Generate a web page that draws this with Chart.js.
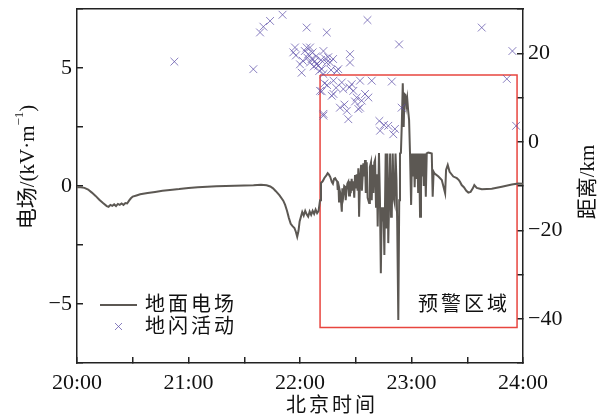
<!DOCTYPE html>
<html>
<head>
<meta charset="utf-8">
<script src="https://cdn.jsdelivr.net/npm/chart.js@4.4.1/dist/chart.umd.min.js"></script>
<style>
  html, body { margin: 0; padding: 0; background: #fff; }
  #wrap { width: 603px; height: 418px; }
</style>
</head>
<body>
<div id="wrap"><canvas id="chart" width="603" height="418"></canvas></div>
<script>
// minutes after 20:00, field in kV/m
const fieldData = [
  [0,-0.05],[2,-0.05],[4,-0.08],[6,-0.15],[8,-0.28],[10,-0.42],[12,-0.58],[14,-0.72],[16,-0.85],[17,-0.88],
  [18,-0.8],[19,-0.84],[20,-0.78],[21,-0.85],[22,-0.76],[23,-0.8],[24,-0.74],[25,-0.8],[26,-0.72],[27,-0.74],
  [28,-0.62],[29,-0.52],[30,-0.45],[32,-0.4],[34,-0.35],[38,-0.3],[42,-0.25],[46,-0.2],[50,-0.17],[55,-0.13],
  [60,-0.08],[65,-0.05],[70,-0.03],[75,-0.01],[80,0.0],[85,0.01],[90,0.02],[95,0.03],[99,0.05],[102,0.03],
  [104,-0.02],[105.5,-0.1],[107,-0.22],[109,-0.4],[111,-0.62],[112,-0.8],[113,-1.05],[114,-1.35],[115,-1.6],[116,-1.7],
  [117,-1.78],[117.8,-1.95],[118.5,-2.15],[119.2,-1.9],[119.8,-1.5],[120.5,-1.3],[121.2,-1.1],[122,-1.25],[122.8,-1.05],[123.6,-1.2],
  [124.4,-1.3],[125.2,-1.08],[126,-1.22],[126.8,-1.05],[127.6,-1.18],[128.4,-1.0],[129.2,-1.15],[130,-1.05],[130.6,-0.7],[130.8,-0.6],
  [131.3,0.13],[132.2,0.2],[133.2,0.35],[134.2,0.45],[134.9,0.54],[135.6,0.48],[136.3,0.38],[137.1,0.18],[137.7,0.1],[138.3,0.3],
  [138.9,0.33],[139.5,0.25],[140.0,0.2],[140.3,-0.17],[140.7,0.05],[141.0,-0.66],[141.4,-0.2],[141.8,-0.35],[142.5,-1.09],[142.8,-0.1],
  [143.3,-0.4],[143.8,0.0],[144.2,-0.03],[144.6,-0.6],[145.0,-0.2],[145.5,0.1],[146.0,0.18],[146.4,-0.4],[146.9,0.2],[147.3,-0.3],
  [147.8,0.3],[148.3,-0.2],[148.7,0.2],[149.2,-0.5],[149.6,0.47],[150.1,-0.1],[150.5,0.5],[151.0,-0.2],[151.4,0.75],[151.8,-1.3],
  [152.3,0.3],[152.9,0.9],[153.3,-0.2],[154.1,0.96],[154.5,0.4],[155.0,1.1],[155.4,-0.3],[155.9,1.0],[156.4,-0.5],[157.2,-0.72],
  [157.6,0.8],[158.2,1.0],[158.6,-0.6],[159.1,0.9],[159.5,-0.3],[160.0,1.0],[160.4,1.1],[160.9,-0.88],[161.4,0.5],[161.8,-1.72],
  [162.5,1.4],[163.0,-0.5],[163.5,-3.7],[164.0,-0.9],[164.4,-1.5],[164.9,-0.9],[165.4,-2.92],[166.1,1.38],[166.6,-1.8],[167.0,1.38],
  [167.5,-2.42],[168.0,-0.5],[168.5,1.38],[169.0,-1.3],[169.4,-1.16],[169.9,1.38],[170.4,-0.5],[170.9,-0.7],[171.4,1.38],[171.9,0.3],
  [172.3,-1.5],[172.9,-5.68],[173.4,-0.6],[173.8,1.38],[174.3,1.4],[174.8,2.66],[175.3,4.35],[175.8,2.5],[176.2,3.9],[176.7,3.86],
  [177.2,3.4],[177.7,3.7],[178.2,3.2],[178.7,2.8],[179.2,1.38],[179.8,-0.8],[180.3,1.38],[180.8,0.4],[181.3,1.38],[181.7,-0.05],
  [182.2,1.38],[182.7,0.3],[183.1,1.38],[183.6,-0.3],[184.1,1.38],[184.6,-1.3],[185.1,1.38],[185.6,0.4],[186.1,1.38],[186.6,0.0],
  [187.2,1.38],[187.7,-0.45],[188.2,1.38],[189.0,1.42],[190.0,1.4],[190.9,1.38],[191.4,-0.45],[191.9,0.6],[192.3,0.54],[194.5,0.4],
  [196.3,0.25],[198.1,-0.31],[198.6,0.68],[199.5,0.89],[200.5,0.6],[202.5,0.4],[204.4,0.33],[205.5,0.25],[206.1,0.18],[207.0,0.04],
  [208.2,-0.05],[209.5,-0.2],[210.6,-0.28],[211.8,-0.25],[213.0,-0.1],[213.8,0.04],[215.1,-0.08],[217.8,-0.14],[223.2,-0.12],[228.6,-0.03],
  [234.0,0.06],[237.5,0.11],[240,0.1],
];

// minutes after 20:00, distance in km
const flashData = [
  [52.4,18.1],[94.9,16.4],[98.5,24.7],[100.3,26.0],[103.9,27.3],[110.6,28.7],[123.6,25.8],[134.4,24.7],[156.3,27.5],[173.3,22.0],
  [217.8,25.8],[234.3,20.5],[231.3,14.2],[236.3,3.6],
  [116.4,20.2],[117.3,21.3],[117.8,19.5],[120.0,17.5],[120.9,15.6],[121.5,18.3],[122.6,20.5],[123.6,21.3],[124.0,19.0],[124.5,19.8],
  [125.4,21.3],[125.4,17.9],[126.3,18.7],[126.8,20.2],[127.4,17.0],[128.0,18.2],[128.6,19.3],[129.0,17.5],[129.9,17.2],[130.4,16.0],
  [131.3,18.5],[131.7,16.4],[132.6,20.5],[132.6,15.3],[133.5,18.8],[134.3,17.9],[135.2,19.1],[136.2,17.9],[136.7,16.2],[137.8,18.7],
  [139.8,16.0],[140.6,16.4],[146.9,19.8],[146.9,17.9],
  [130.8,11.5],[131.7,11.4],[132.6,6.3],[132.6,5.9],[133.2,13.2],[134.6,12.8],[137.1,10.4],[138.0,13.8],[138.0,10.8],[139.4,12.2],
  [141.5,7.7],[142.5,13.4],[143.3,11.9],[143.9,8.4],[145.2,7.0],[146.0,5.1],[146.6,12.3],[147.8,13.0],[148.7,11.5],[149.6,9.1],
  [150.5,10.0],[151.4,7.4],[152.3,13.8],[152.3,7.7],[153.2,9.3],[155.0,10.8],[156.8,10.0],[158.6,13.8],[162.7,4.7],[163.1,2.5],
  [165.2,3.8],[167.5,3.6],[169.4,13.6],[170.2,1.7],[171.1,2.9],[174.7,7.7],
];

// warning region corners (minutes, kV/m)
const warnBoxX = [130.8, 236.8, 236.8, 130.8, 130.8];
const warnBoxY = [4.7, 4.7, -6.0, -6.0, 4.7];

const fieldLabel = "地面电场";
const flashLabel = "地闪活动";
const warnLabel = "预警区域";

const FONT = '"Liberation Serif", "Noto Sans CJK SC", serif';
const LINE_COLOR = "#5c5853";
const FLASH_COLOR = "rgba(92,78,168,0.72)";
const BOX_COLOR = "#e8453f";
const AXIS_COLOR = "#222";

const minus = (v) => String(v).replace("-", "\u2212");

function zeroPad(s) {
  s.paddingTop = 0; s.paddingBottom = 0; s.paddingLeft = 0; s.paddingRight = 0;
}

function drawRotated(ctx, parts, cx, cy, angle) {
  ctx.save();
  ctx.translate(cx, cy);
  ctx.rotate(angle);
  ctx.textBaseline = "middle";
  ctx.textAlign = "left";
  let total = 0;
  parts.forEach((p) => { ctx.font = `${p.size}px ${FONT}`; total += ctx.measureText(p.t).width; });
  let x = -total / 2;
  parts.forEach((p) => {
    ctx.font = `${p.size}px ${FONT}`;
    ctx.fillText(p.t, x, p.dy || 0);
    x += ctx.measureText(p.t).width;
  });
  ctx.restore();
}

const annotate = {
  id: "annotate",
  afterDraw(chart) {
    const ctx = chart.ctx;
    ctx.save();
    ctx.fillStyle = "#111";

    // legend
    ctx.strokeStyle = LINE_COLOR;
    ctx.lineWidth = 2;
    ctx.beginPath();
    ctx.moveTo(100, 305);
    ctx.lineTo(137, 305);
    ctx.stroke();
    ctx.strokeStyle = FLASH_COLOR;
    ctx.lineWidth = 1;
    ctx.beginPath();
    ctx.moveTo(115, 323); ctx.lineTo(122, 330);
    ctx.moveTo(122, 323); ctx.lineTo(115, 330);
    ctx.stroke();

    ctx.font = `20px ${FONT}`;
    ctx.textBaseline = "middle";
    ctx.textAlign = "left";
    ctx.letterSpacing = "3px";
    ctx.fillText(fieldLabel, 145, 306);
    ctx.fillText(flashLabel, 145, 328);

    ctx.textAlign = "center";
    ctx.fillText(warnLabel, 464, 306);
    ctx.fillText("北京时间", 332, 407);
    ctx.letterSpacing = "0px";

    drawRotated(ctx, [
      { t: "电场/(kV·m", size: 21 },
      { t: "\u22121", size: 13, dy: -8 },
      { t: ")", size: 21 },
    ], 28, 167, -Math.PI / 2);
    drawRotated(ctx, [{ t: "距离/km", size: 21 }], 588, 182, -Math.PI / 2);
    ctx.restore();
  },
};

const tickFont = { family: FONT, size: 22 };

new Chart(document.getElementById("chart"), {
  type: "line",
  data: {
    datasets: [
      {
        type: "scatter",
        label: flashLabel,
        yAxisID: "y2",
        data: flashData.map(([x, y]) => ({ x, y })),
        pointStyle: "crossRot",
        pointRadius: 5.5,
        pointBorderWidth: 1,
        borderColor: FLASH_COLOR,
        backgroundColor: FLASH_COLOR,
      },
      {
        label: fieldLabel,
        yAxisID: "y",
        data: fieldData.map(([x, y]) => ({ x, y })),
        borderColor: LINE_COLOR,
        borderWidth: 2,
        pointRadius: 0,
        tension: 0,
      },
      {
        label: warnLabel,
        yAxisID: "y",
        data: warnBoxX.map((x, i) => ({ x, y: warnBoxY[i] })),
        borderColor: BOX_COLOR,
        borderWidth: 1.5,
        pointRadius: 0,
        tension: 0,
      },
    ],
  },
  options: {
    responsive: false,
    animation: false,
    devicePixelRatio: 1,
    layout: { padding: 0 },
    plugins: { legend: { display: false }, tooltip: { enabled: false } },
    scales: {
      x: {
        type: "linear",
        position: "bottom",
        min: 0,
        max: 240,
        afterFit: (s) => { s.height = 55; zeroPad(s); },
        ticks: {
          stepSize: 30,
          autoSkip: false,
          maxRotation: 0,
          padding: 13,
          color: "#111",
          font: tickFont,
          callback: (v) => (v % 60 === 0 ? `${20 + v / 60}:00` : ""),
        },
        grid: { drawOnChartArea: false, tickLength: -6, color: AXIS_COLOR, lineWidth: 1.5 },
        border: { color: AXIS_COLOR, width: 1.5 },
      },
      xTop: {
        type: "linear",
        position: "top",
        min: 0,
        max: 240,
        afterFit: (s) => { s.height = 9; zeroPad(s); },
        ticks: { display: false },
        grid: { display: false },
        border: { color: AXIS_COLOR, width: 1.5 },
      },
      y: {
        position: "left",
        min: -7.5,
        max: 7.5,
        afterFit: (s) => { s.width = 77; zeroPad(s); },
        ticks: {
          stepSize: 2.5,
          padding: 11,
          color: "#111",
          font: tickFont,
          callback: (v) => (v % 5 === 0 ? minus(v) : ""),
        },
        grid: { drawOnChartArea: false, tickLength: -6, color: AXIS_COLOR, lineWidth: 1.5 },
        border: { color: AXIS_COLOR, width: 1.5 },
      },
      y2: {
        position: "right",
        min: -50,
        max: 30,
        afterFit: (s) => { s.width = 80; zeroPad(s); },
        ticks: {
          stepSize: 10,
          padding: 11,
          color: "#111",
          font: tickFont,
          callback: (v) => (v % 20 === 0 ? minus(v) : ""),
        },
        grid: { drawOnChartArea: false, tickLength: -6, color: AXIS_COLOR, lineWidth: 1.5 },
        border: { color: AXIS_COLOR, width: 1.5 },
      },
    },
  },
  plugins: [annotate],
});
</script>
</body>
</html>
